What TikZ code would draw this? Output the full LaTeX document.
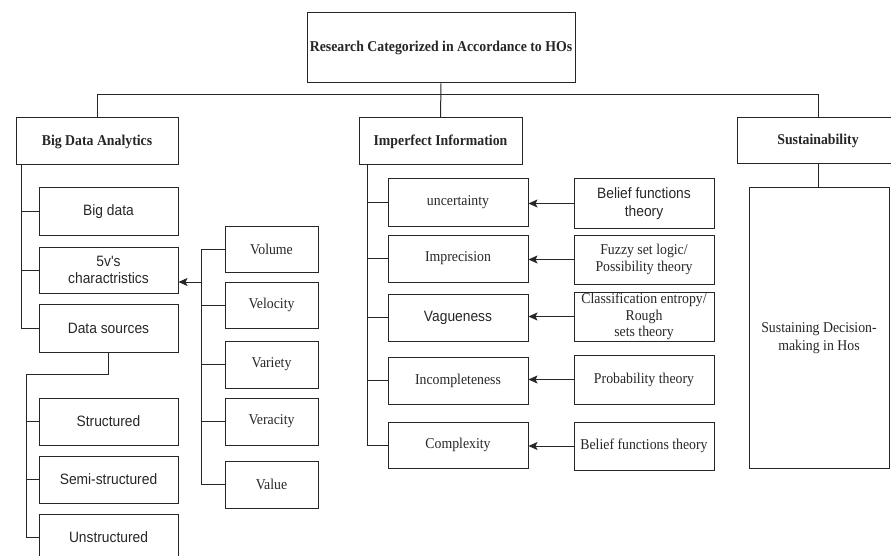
\documentclass[tikz,border=0pt]{standalone}
\usepackage{fontspec}
\setmainfont{Liberation Serif}[FakeStretch=0.92]
\newfontfamily\arialfont{Liberation Sans}[FakeStretch=0.92]
\usetikzlibrary{arrows.meta}

\begin{document}
\begin{tikzpicture}[x=1pt, y=-1pt,
		box/.style={draw=black!85, line width=1pt, text=black!85, align=center, inner sep=1pt,
			font=\fontsize{15}{17.5}\selectfont},
		sbox/.style={box, font=\arialfont\fontsize{15}{17.5}\selectfont},
		hbox/.style={box, font=\bfseries\fontsize{15}{17.5}\selectfont},
		wire/.style={black!85, line width=1pt},
		arr/.style={wire, -{Stealth[length=9pt, width=8pt, inset=2pt]}}]
		%%%%% START %%%%%
		
		\useasboundingbox (0, 0) rectangle (891, 556);
		
		\node[hbox, minimum width=268, minimum height=70] (title) at (441, 48) {Research Categorized in Accordance to HOs};
		
		\node[hbox, minimum width=162, minimum height=47] (bda) at (97, 141.5) {Big Data Analytics};
		\node[hbox, minimum width=163, minimum height=47] (imp) at (440.5, 141.5) {Imperfect Information};
		\node[hbox, minimum width=162, minimum height=46] (sus) at (818, 141) {Sustainability};
		
		\draw[wire] (title.south) -- (imp.north);
		\draw[wire] (bda.north) -- ++(0, -23) -| (sus.north);
		
		% big data analytics
		\node[sbox, minimum width=139, minimum height=47] (bigdata) at (108.5, 211.5) {Big data};
		\node[sbox, minimum width=139, minimum height=46] (fivev) at (108.5, 270) {5v's\\charactristics};
		\node[sbox, minimum width=139, minimum height=48] (dsrc) at (108.5, 328) {Data sources};
		
		\draw[wire] ([xshift=6]bda.south west) |- (bigdata.west);
		\draw[wire] ([xshift=6]bda.south west) |- (fivev.west);
		\draw[wire] ([xshift=6]bda.south west) |- (dsrc.west);
		
		\node[sbox, minimum width=139, minimum height=47] (struct) at (108.5, 421.5) {Structured};
		\node[sbox, minimum width=139, minimum height=47] (semi) at (108.5, 479.5) {Semi-structured};
		\node[sbox, minimum width=139, minimum height=47] (unstr) at (108.5, 537.5) {Unstructured};
		
		\draw[wire] (dsrc.south) -- ++(0, 22) -| ([xshift=-12]unstr.west) -- (unstr.west);
		\draw[wire] ([xshift=-12]struct.west) -- (struct.west);
		\draw[wire] ([xshift=-12]semi.west) -- (semi.west);
		
		\node[box, minimum width=93, minimum height=46] (volume) at (271.5, 249) {Volume};
		\node[box, minimum width=93, minimum height=46] (velocity) at (271.5, 305) {Velocity};
		\node[box, minimum width=93, minimum height=47] (variety) at (271.5, 364.5) {Variety};
		\node[box, minimum width=93, minimum height=47] (veracity) at (271.5, 421.5) {Veracity};
		\node[box, minimum width=93, minimum height=47] (value) at (271.5, 484.5) {Value};
		
		\draw[wire] (volume.west) -- ++(-23, 0) |- (value.west);
		\draw[wire] (velocity.west) -- ++(-23, 0);
		\draw[wire] (variety.west) -- ++(-23, 0);
		\draw[wire] (veracity.west) -- ++(-23, 0);
		\coordinate (vsplit) at (202, 282);
		\draw[arr] (vsplit) -- (vsplit -| fivev.east);
		
		% imperfect information
		\node[box, minimum width=140, minimum height=47] (unc) at (458, 202.5) {uncertainty};
		\node[box, minimum width=140, minimum height=47] (impr) at (458, 258.5) {Imprecision};
		\node[sbox, minimum width=140, minimum height=47] (vag) at (458, 317.5) {Vagueness};
		\node[box, minimum width=140, minimum height=47] (incomp) at (458, 380.5) {Incompleteness};
		\node[box, minimum width=140, minimum height=46] (cplx) at (458, 445) {Complexity};
		
		\draw[wire] ([xshift=9]imp.south west) |- (unc.west);
		\draw[wire] ([xshift=9]imp.south west) |- (impr.west);
		\draw[wire] ([xshift=9]imp.south west) |- (vag.west);
		\draw[wire] ([xshift=9]imp.south west) |- (incomp.west);
		\draw[wire] ([xshift=9]imp.south west) |- (cplx.west);
		
		\node[sbox, minimum width=140, minimum height=49] (bft) at (644, 203.5) {Belief functions\\theory};
		\node[box, minimum width=140, minimum height=49] (fuzzy) at (644, 259.5) {Fuzzy set logic/\\Possibility theory};
		\node[box, minimum width=140, minimum height=49, font=\fontsize{15}{16.5}\selectfont] (classif) at (644, 316.5) {Classification entropy/\\Rough\\sets theory};
		\node[box, minimum width=140, minimum height=49] (prob) at (644, 379.5) {Probability theory};
		\node[box, minimum width=140, minimum height=48] (bft2) at (644, 446) {Belief functions theory};
		
		\draw[arr] (bft.west) -- (bft.west -| unc.east);
		\draw[arr] (fuzzy.west) -- (fuzzy.west -| impr.east);
		\draw[arr] (classif.west) -- (classif.west -| vag.east);
		\draw[arr] (prob.west) -- (prob.west -| incomp.east);
		\draw[arr] (bft2.west) -- (bft2.west -| cplx.east);
		
		% sustainability
		\node[box, minimum width=140, minimum height=280] (sustdm) at (819, 328) {};
		\node[text=black!85, align=center, font=\fontsize{15}{17.5}\selectfont] (sdmtext) at ([yshift=-10]sustdm.center) {Sustaining Decision-\\making in Hos};
		\draw[wire] (sus.south) -- (sus.south |- sustdm.north);
		
		%%%%% END %%%%%
\end{tikzpicture}
\end{document}
